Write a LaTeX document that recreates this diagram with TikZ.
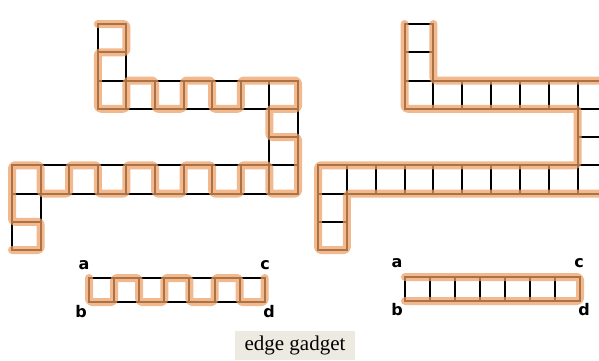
\documentclass[tikz,border=0pt]{standalone}
\usepackage{fontspec}
\setmainfont{Liberation Serif}
\newfontfamily\lblfont{DejaVu Sans}
\definecolor{orng}{RGB}{238,158,98}
\definecolor{tagbg}{RGB}{237,235,225}
\begin{document}
\begin{tikzpicture}[x=1pt,y=1pt,
  gridline/.style={line width=2pt, draw=black, line cap=round},
  orangeline/.style={line width=8pt, draw=orng, draw opacity=0.72, line join=round, line cap=round, rounded corners=3pt},
  lbl/.style={font=\lblfont\bfseries\fontsize{16}{16}\selectfont, inner sep=0pt}]
\useasboundingbox (0,0) rectangle (599,360);
\clip (0,0) rectangle (599,360);

% ---------- big left figure ----------
\begin{scope}[shift={(12,336)}, x={(28.6pt,0pt)}, y={(0pt,-28.25pt)}]
  \foreach \c/\r in {3/0,3/1,3/2,4/2,5/2,6/2,7/2,8/2,9/2,9/3,9/4,9/5,8/5,7/5,6/5,5/5,4/5,3/5,2/5,1/5,0/5,0/6,0/7}
    \draw[gridline] (\c,\r) rectangle ++(1,1);
  \draw[orangeline] (3,0) -- (4,0) -- (4,1) -- (3,1) -- (3,3) -- (4,3) -- (4,2) -- (5,2) -- (5,3) -- (6,3) -- (6,2) -- (7,2) -- (7,3) -- (8,3) -- (8,2) -- (10,2) -- (10,3) -- (9,3) -- (9,4) -- (10,4) -- (10,6) -- (9,6) -- (9,5) -- (8,5) -- (8,6) -- (7,6) -- (7,5) -- (6,5) -- (6,6) -- (5,6) -- (5,5) -- (4,5) -- (4,6) -- (3,6) -- (3,5) -- (2,5) -- (2,6) -- (1,6) -- (1,5) -- (0,5) -- (0,7) -- (1,7) -- (1,8) -- (0,8);
\end{scope}

% ---------- big right figure ----------
\begin{scope}[shift={(318,336)}, x={(28.85pt,0pt)}, y={(0pt,-28.25pt)}]
  \foreach \c/\r in {3/0,3/1,3/2,4/2,5/2,6/2,7/2,8/2,9/2,9/3,9/4,9/5,8/5,7/5,6/5,5/5,4/5,3/5,2/5,1/5,0/5,0/6,0/7}
    \draw[gridline] (\c,\r) rectangle ++(1,1);
  \draw[orangeline] (3,0) -- (3,3) -- (9,3) -- (9,5) -- (0,5) -- (0,8) -- (1,8) -- (1,6) -- (10,6) -- (10,2) -- (4,2) -- (4,0);
\end{scope}

% ---------- left edge gadget ----------
\begin{scope}[shift={(89,82)}, x={(25.1pt,0pt)}, y={(0pt,-24pt)}]
  \foreach \c in {0,...,6}
    \draw[gridline] (\c,0) rectangle ++(1,1);
  \draw[orangeline] (0,0) -- (0,1) -- (1,1) -- (1,0) -- (2,0) -- (2,1) -- (3,1) -- (3,0) -- (4,0) -- (4,1) -- (5,1) -- (5,0) -- (6,0) -- (6,1) -- (7,1) -- (7,0);
\end{scope}
\node[lbl] (la) at (84,95) {a};
\node[lbl] (lb) at (81,48) {b};
\node[lbl] (lc) at (265,95) {c};
\node[lbl] (ld) at (269,48) {d};

% ---------- right edge gadget ----------
\begin{scope}[shift={(405,83)}, x={(25pt,0pt)}, y={(0pt,-24pt)}]
  \foreach \c in {0,...,6}
    \draw[gridline] (\c,0) rectangle ++(1,1);
  \draw[orangeline] (0,0) -- (7,0) -- (7,1) -- (0,1);
\end{scope}
\node[lbl] (ra) at (397,97) {a};
\node[lbl] (rb) at (397,50) {b};
\node[lbl] (rc) at (579,97) {c};
\node[lbl] (rd) at (584,50) {d};

% ---------- caption tag ----------
\node[fill=tagbg, minimum width=120pt, minimum height=29pt, inner sep=0pt,
      font=\fontsize{21}{21}\selectfont] (tag) at (295,14.5) {edge gadget};
\end{tikzpicture}
\end{document}
